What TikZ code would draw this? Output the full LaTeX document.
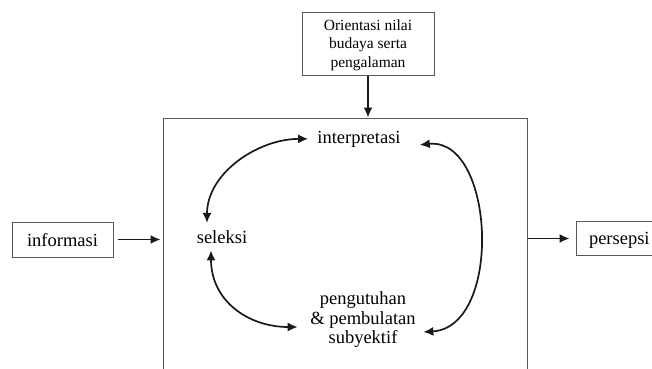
\documentclass[tikz,border=0pt]{standalone}
\usepackage{fontspec}
\setmainfont{Liberation Serif}
\usetikzlibrary{arrows.meta,calc}
\begin{document}
\begin{tikzpicture}[x=1pt,y=-1pt,
  txt/.style={inner sep=0pt,font=\fontsize{18.5}{19.5}\selectfont},
  box/.style={draw=black!65,line width=1pt,txt,text depth=0pt},
  arr/.style={-{Latex[length=10pt,width=9pt]},line width=1.7pt,draw=black!90},
  darr/.style={{Latex[length=10pt,width=9pt]}-{Latex[length=10pt,width=9pt]},line width=1.7pt,draw=black!90}]
\useasboundingbox (0,0) rectangle (652,368);
\clip (0,0) rectangle (652,368);
% boxes
\node[box,minimum width=132pt,minimum height=63pt,align=center,
      font=\fontsize{15.5}{18.5}\selectfont] (orient) at (368,43.5)
  {Orientasi nilai\\budaya serta\\pengalaman};
\node[draw=black!65,line width=1pt,minimum width=364pt,minimum height=282pt,inner sep=0pt] (main) at (345,259) {};
\node[box,minimum width=101pt,minimum height=35pt] (info) at (62.5,239.5) {informasi};
\node[box,minimum height=34pt,text width=90pt,inner xsep=13pt,align=left] (pers) at (634,238.5) {persepsi};
% inner texts
\node[txt,anchor=base] (interp) at (359,143) {interpretasi};
\node[txt,anchor=base] (sel) at (222,243) {seleksi};
\node[txt,align=center] (peng) at (363,320) {pengutuhan\\\& pembulatan\\subyektif};
% straight arrows
\draw[arr] (orient.south) -- (orient.south |- main.north);
\draw[arr,shorten <=4pt,shorten >=2pt] (info.east) -- (info.east -| main.west);
\draw[arr,shorten >=6pt] (pers.west -| main.east) -- (pers.west);
% curved arrows
\draw[darr] ($(sel.north)+(-15,-7)$) .. controls +(0,-50) and +(-50,0) .. ($(interp.west)+(-9,0)$);
\draw[darr] ($(sel.south)+(-11,7)$) .. controls +(0,50) and +(-50,0) .. ($(peng.west)+(-12.5,7)$);
\draw[darr] ($(interp.east)+(19,6)$) .. controls +(75,-8) and +(80,-5) .. ($(peng.east)+(7.5,12)$);
\end{tikzpicture}
\end{document}
